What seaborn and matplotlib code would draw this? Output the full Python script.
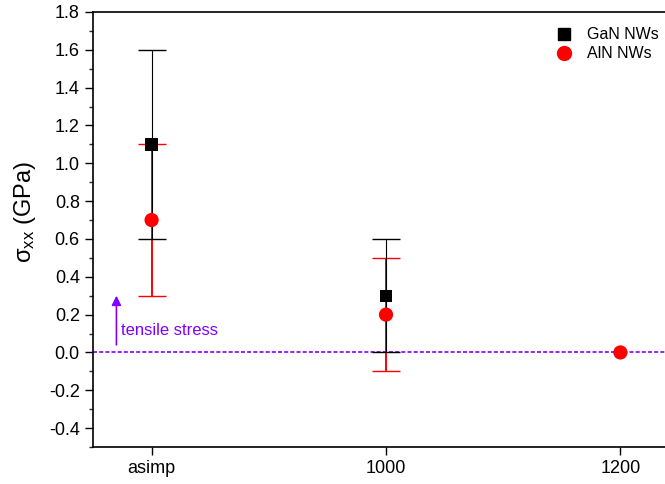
import matplotlib
matplotlib.use("Agg")
import matplotlib.pyplot as plt
import seaborn as sns
import pandas as pd
from matplotlib.ticker import MultipleLocator, FormatStrFormatter
from matplotlib.lines import Line2D

sns.set_theme(style="ticks")
plt.rcParams["font.family"] = ["Liberation Sans", "DejaVu Sans"]
plt.rcParams["text.color"] = "black"

# Annealing condition categories
categories = ["asimp", "1000", "1200"]

# GaN nanowires: stress and error
gan_x = ["asimp", "1000"]
gan_stress = [1.1, 0.3]
gan_err = [0.5, 0.3]

# AlN nanowires: stress and error
aln_x = ["asimp", "1000", "1200"]
aln_stress = [0.7, 0.2, 0.0]
aln_err = [0.4, 0.3, 0.0]

pos = {c: i for i, c in enumerate(categories)}

df = pd.concat([
    pd.DataFrame({"cond": gan_x, "stress": gan_stress, "err": gan_err, "sample": "GaN NWs"}),
    pd.DataFrame({"cond": aln_x, "stress": aln_stress, "err": aln_err, "sample": "AlN NWs"}),
], ignore_index=True)
df["x"] = df["cond"].map(pos)

fig = plt.figure(figsize=(6.65, 4.84), dpi=100)
ax = fig.add_axes([93 / 665, 1 - 447 / 484, 586 / 665, 435 / 484])

# zero-stress reference line
ax.axhline(0, color="#8000ff", lw=1.2, ls=(0, (2.4, 1.3)), zorder=1)

colors = {"GaN NWs": "black", "AlN NWs": "red"}
# red bars underneath, thinner black bars on top
for name, lw in [("AlN NWs", 1.4), ("GaN NWs", 0.8)]:
    sub = df[(df["sample"] == name) & (df["err"] > 0)]
    ax.errorbar(sub["x"], sub["stress"], yerr=sub["err"], fmt="none",
                ecolor=colors[name], elinewidth=lw, capsize=10, capthick=1.0,
                zorder=2)

sns.scatterplot(data=df[df["sample"] == "GaN NWs"], x="x", y="stress",
                color="black", marker="s", s=78, edgecolor="none",
                linewidth=0, ax=ax, zorder=3, legend=False)
sns.scatterplot(data=df[df["sample"] == "AlN NWs"], x="x", y="stress",
                color="red", marker="o", s=105, edgecolor="none",
                linewidth=0, ax=ax, zorder=3, legend=False)

# tensile stress annotation
ax.annotate("", xy=(-0.15, 0.30), xytext=(-0.15, 0.04),
            arrowprops=dict(arrowstyle="-|>", color="#8000ff", lw=1.2,
                            mutation_scale=14, shrinkA=0, shrinkB=0))
ax.text(-0.13, 0.115, "tensile stress", color="#8000ff", fontsize=12,
        ha="left", va="center")

ax.set_xlim(-0.25, 2.25)
ax.set_ylim(-0.5, 1.8)
ax.set_xticks(range(len(categories)))
ax.set_xticklabels(categories)
ax.yaxis.set_major_locator(MultipleLocator(0.2))
ax.yaxis.set_minor_locator(MultipleLocator(0.1))
ax.yaxis.set_major_formatter(FormatStrFormatter("%.1f"))
ax.tick_params(axis="both", which="major", labelsize=13, length=6, width=1,
               direction="out", color="black", labelcolor="black")
ax.tick_params(axis="y", which="minor", length=3, width=1, direction="out")
for s in ["left", "bottom", "top"]:
    ax.spines[s].set_color("black")
    ax.spines[s].set_linewidth(1.2)
ax.spines["right"].set_visible(False)

ax.set_xlabel("")
ax.set_ylabel(r"$\mathregular{\sigma_{xx}}$ (GPa)", fontsize=17, color="black")
ax.yaxis.set_label_coords(-0.094, 0.54)

handles = [
    Line2D([], [], ls="none", marker="s", color="black", markersize=8.5),
    Line2D([], [], ls="none", marker="o", color="red", markersize=10),
]
leg = ax.legend(handles, ["GaN NWs", "AlN NWs"], loc="upper right",
                bbox_to_anchor=(1.012, 0.973), bbox_transform=fig.transFigure,
                frameon=False, fontsize=11.5, handletextpad=0.4,
                labelspacing=0.25)
for t in leg.get_texts():
    t.set_color("black")

fig.savefig("out.png", dpi=100)
